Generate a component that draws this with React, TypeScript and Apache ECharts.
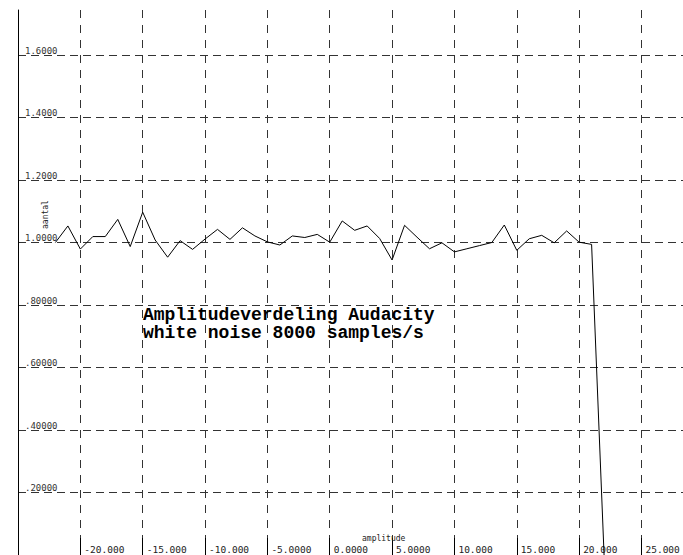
import React, { useEffect, useRef } from "react";
import * as echarts from "echarts";

const amplitude = [-22, -21, -20, -19, -18, -17, -16, -15, -14, -13, -12, -11, -10, -9, -8, -7, -6, -5, -4, -3, -2, -1, 0, 1, 2, 3, 4, 5, 6, 7, 8, 9, 10, 11, 12, 13, 14, 15, 16, 17, 18, 19, 20, 21, 22];
const aantal = [1.0, 1.053, 0.979, 1.019, 1.019, 1.074, 0.987, 1.097, 1.008, 0.953, 1.006, 0.978, 1.011, 1.042, 1.01, 1.047, 1.021, 1.002, 0.992, 1.021, 1.016, 1.026, 1.001, 1.069, 1.039, 1.053, 1.013, 0.944, 1.055, 1.017, 0.98, 0.999, 0.97, 0.98, 0.99, 1.0, 1.056, 0.975, 1.012, 1.023, 0.999, 1.037, 1.001, 0.994, 0.0];

const xTickLabels: Record<string, string> = {
  "-20": "-20.000", "-15": "-15.000", "-10": "-10.000", "-5": "-5.0000", "0": "0.0000",
  "5": "5.0000", "10": "10.000", "15": "15.000", "20": "20.000", "25": "25.000",
};
const yTickLabels: Record<string, string> = {
  "0.2": ".20000", "0.4": ".40000", "0.6": ".60000", "0.8": ".80000",
  "1": "1.0000", "1.2": "1.2000", "1.4": "1.4000", "1.6": "1.6000",
};
const titleLines = ["Amplitudeverdeling Audacity", "white noise 8000 samples/s"];
const xName = "amplitude";
const yName = "aantal";

export default function App() {
  const ref = useRef<HTMLDivElement>(null);
  useEffect(() => {
    document.body.style.margin = "0";
    const chart = echarts.init(ref.current!, null, { renderer: "svg" });
    const mono = "DejaVu Sans Mono";
    chart.setOption({
      animation: false,
      backgroundColor: "#ffffff",
      grid: { left: 18, top: 10, right: 0, bottom: 0, containLabel: false },
      xAxis: {
        type: "value",
        min: -25,
        max: 28.33,
        interval: 5,
        axisLine: { show: false },
        axisTick: { show: true, inside: true, length: 17, lineStyle: { color: "#000", width: 1 } },
        axisLabel: {
          inside: true,
          showMinLabel: false,
          showMaxLabel: false,
          align: "left",
          verticalAlign: "bottom",
          margin: 1,
          padding: [0, 0, 0, 4],
          fontFamily: mono,
          fontSize: 9.5,
          color: "#222",
          formatter: (v: number) => xTickLabels[String(Math.round(v))] ?? "",
        },
        splitLine: {
          show: true,
          showMinLine: false,
          showMaxLine: false,
          lineStyle: { color: "#333", type: [8, 7], width: 1 },
        },
      },
      yAxis: {
        type: "value",
        min: 0,
        max: 1.744,
        interval: 0.2,
        axisLine: { show: true, onZero: false, lineStyle: { color: "#000", width: 1 } },
        axisTick: { show: false },
        axisLabel: {
          inside: true,
          showMinLabel: false,
          showMaxLabel: false,
          align: "left",
          verticalAlign: "bottom",
          margin: 7,
          fontFamily: mono,
          fontSize: 9,
          color: "#333",
          formatter: (v: number) => yTickLabels[String(Math.round(v * 10) / 10)] ?? "",
        },
        splitLine: {
          show: true,
          showMinLine: false,
          showMaxLine: false,
          lineStyle: { color: "#333", type: [8, 5], width: 1 },
        },
      },
      series: [
        {
          type: "line",
          data: amplitude.map((a, i) => [a, aantal[i]]),
          showSymbol: false,
          symbol: "none",
          lineStyle: { color: "#000", width: 1 },
          z: 5,
        },
      ],
      graphic: [
        {
          type: "text",
          left: 143,
          top: 306,
          z: 10,
          style: {
            text: titleLines.join("\n"),
            font: "bold 18px 'Liberation Mono'",
            lineHeight: 18,
            fill: "#000",
          },
        },
        {
          type: "text",
          left: 362,
          top: 534,
          z: 10,
          style: { text: xName, font: "8px 'DejaVu Sans Mono'", fill: "#222" },
        },
        {
          type: "text",
          x: 41,
          y: 229,
          rotation: Math.PI / 2,
          z: 10,
          style: { text: yName, font: "8px 'DejaVu Sans Mono'", fill: "#222" },
        },
      ],
    });
    return () => chart.dispose();
  }, []);
  return <div ref={ref} style={{ width: 683, height: 555 }} />;
}
